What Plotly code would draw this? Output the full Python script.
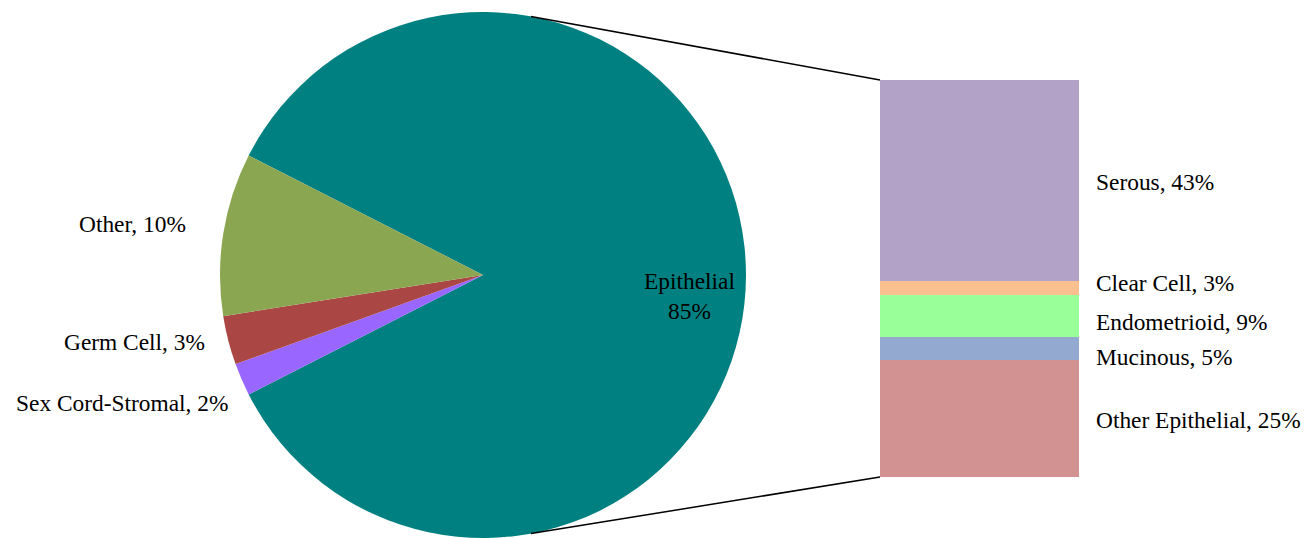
import math
import plotly.graph_objects as go

W, H = 1316, 538

# Ovarian tumour types (pie) and epithelial subtypes (stacked bar)
pie_labels = ["Epithelial", "Sex Cord-Stromal", "Germ Cell", "Other"]
pie_values = [85, 2, 3, 10]
pie_colors = ["#008080", "#9966ff", "#aa4643", "#8ba650"]

sub_labels = ["Other Epithelial", "Mucinous", "Endometrioid", "Clear Cell", "Serous"]
sub_values = [25, 5, 9, 3, 43]
sub_colors = ["#d19291", "#94a9d0", "#99ff99", "#fac090", "#b2a2c8"]

FONT = "Liberation Serif"
FS = 23.4


def px(x, y):
    """pixel position (from top-left) -> paper coordinates"""
    return x / W, 1 - y / H


# pie placement
pie_x = [218 / W, 748 / W]
pie_y = [0.0, 526 / H]
cx = (pie_x[0] + pie_x[1]) / 2 * W
cy = H - (pie_y[0] + pie_y[1]) / 2 * H
r = min((pie_x[1] - pie_x[0]) * W, (pie_y[1] - pie_y[0]) * H) / 2

# bar placement
bar_x = [880 / W, 1079 / W]
bar_y = [(H - 477) / H, (H - 80) / H]

fig = go.Figure()
fig.add_trace(go.Pie(
    labels=pie_labels, values=pie_values, sort=False,
    direction="clockwise", rotation=-63,
    marker=dict(colors=pie_colors, line=dict(width=0)),
    textinfo="none", hoverinfo="label+percent",
    domain=dict(x=pie_x, y=pie_y), showlegend=False,
))

for lab, val, col in zip(sub_labels, sub_values, sub_colors):
    fig.add_trace(go.Bar(
        x=[0], y=[val], width=[1], name=lab,
        marker=dict(color=col, line=dict(width=0)),
        showlegend=False, hoverinfo="name+y",
        xaxis="x", yaxis="y",
    ))

annotations = []

# pie labels
total = sum(pie_values)
pie_pct = {l: round(100 * v / total) for l, v in zip(pie_labels, pie_values)}
ex, ey = px(689, 296)
annotations.append(dict(
    x=ex, y=ey, xref="paper", yref="paper", showarrow=False,
    text=f"Epithelial<br>{pie_pct['Epithelial']}%", align="center",
    xanchor="center", yanchor="middle",
    font=dict(family=FONT, size=FS, color="black"),
))
outer_pos = {"Other": (188, 224), "Germ Cell": (207, 342), "Sex Cord-Stromal": (230, 403)}
for lab in ["Other", "Germ Cell", "Sex Cord-Stromal"]:
    ax_, ay_ = px(*outer_pos[lab])
    annotations.append(dict(
        x=ax_, y=ay_, xref="paper", yref="paper", showarrow=False,
        text=f"{lab}, {pie_pct[lab]}%", xanchor="right", yanchor="middle",
        font=dict(family=FONT, size=FS, color="black"),
    ))

# bar labels
sub_pos_y = {"Serous": 182, "Clear Cell": 283, "Endometrioid": 322,
             "Mucinous": 357, "Other Epithelial": 420}
for lab, val in zip(sub_labels, sub_values):
    ax_, ay_ = px(1094, sub_pos_y[lab])
    annotations.append(dict(
        x=ax_, y=ay_, xref="paper", yref="paper", showarrow=False,
        text=f"{lab}, {val}%", xanchor="left", yanchor="middle",
        font=dict(family=FONT, size=FS, color="black"),
    ))

# connector lines from the epithelial wedge to the bar
shapes = []
theta = math.radians(79.5)
bar_left_px = bar_x[0] * W
bar_top_px = H - bar_y[1] * H
bar_bot_px = H - bar_y[0] * H
for sign, by in [(1, bar_top_px), (-1, bar_bot_px)]:
    x0 = cx + r * math.cos(theta)
    y0 = cy - sign * r * math.sin(theta)
    p0 = px(x0, y0)
    p1 = px(bar_left_px, by)
    shapes.append(dict(type="line", xref="paper", yref="paper",
                       x0=p0[0], y0=p0[1], x1=p1[0], y1=p1[1],
                       line=dict(color="black", width=1.5)))

fig.update_layout(
    width=W, height=H,
    margin=dict(l=0, r=0, t=0, b=0),
    paper_bgcolor="white", plot_bgcolor="white",
    barmode="stack", bargap=0,
    xaxis=dict(domain=bar_x, range=[-0.5, 0.5], visible=False, fixedrange=True),
    yaxis=dict(domain=bar_y, range=[0, sum(sub_values)], visible=False, fixedrange=True),
    annotations=annotations, shapes=shapes,
    font=dict(family=FONT, size=FS, color="black"),
)

fig.write_html("out.html")
